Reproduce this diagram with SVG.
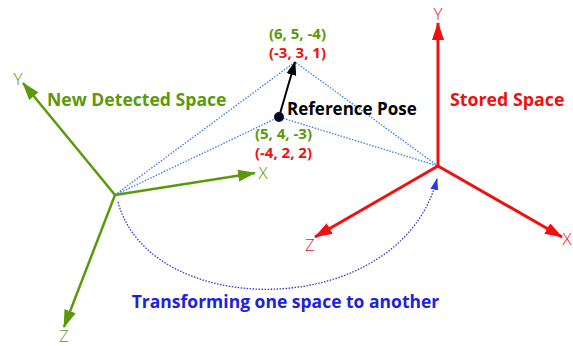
<svg xmlns="http://www.w3.org/2000/svg" width="573" height="346" viewBox="0 0 573 346">
<defs>
<style>
.g{stroke:#5a9a0a;stroke-width:2.5;fill:none}
.r{stroke:#f01010;stroke-width:3;fill:none}
.dot{stroke:#3a7cf0;stroke-width:1.3;stroke-dasharray:1.5 1.5;fill:none}
.arc{stroke:#3535d0;stroke-width:1.3;stroke-dasharray:1.5 1.5;fill:none}
.ax{font-family:"Open Sans","DejaVu Sans",sans-serif;font-size:17px;font-weight:300}
.b{font-family:"Open Sans","DejaVu Sans",sans-serif;font-weight:bold}
</style>
<marker id="mg" viewBox="0 0 18 12" refX="17" refY="6" markerWidth="18" markerHeight="12" markerUnits="userSpaceOnUse" orient="auto"><path d="M0,0 L18,6 L0,12 z" fill="#5a9a0a"/></marker>
<marker id="mr" viewBox="0 0 18 12" refX="17" refY="6" markerWidth="18" markerHeight="12" markerUnits="userSpaceOnUse" orient="auto"><path d="M0,0 L18,6 L0,12 z" fill="#f01010"/></marker>
<marker id="mk" viewBox="0 0 14 10" refX="13" refY="5" markerWidth="14" markerHeight="10" markerUnits="userSpaceOnUse" orient="auto"><path d="M0,0 L14,5 L0,10 z" fill="#000"/></marker>
<marker id="mb" viewBox="0 0 12 8" refX="11" refY="4" markerWidth="12" markerHeight="8" markerUnits="userSpaceOnUse" orient="auto"><path d="M0,0 L12,4 L0,8 z" fill="#2a3ae0"/></marker>
</defs>
<rect width="573" height="346" fill="#fff"/>
<g id="connectors">
<path class="dot" d="M115,195 L295,62 L438,166 M115,195 L279,117 L438,166"/>
<path class="arc" d="M118,202 C150,322 400,322 437,179" marker-end="url(#mb)"/>
<line x1="279" y1="117" x2="295" y2="62" stroke="#000" stroke-width="2" marker-end="url(#mk)"/>
</g>
<g id="detected-space">
<line class="g" x1="115" y1="195" x2="23" y2="83" marker-end="url(#mg)"/>
<line class="g" x1="115" y1="195" x2="255" y2="173" marker-end="url(#mg)"/>
<line class="g" x1="115" y1="195" x2="64" y2="327" marker-end="url(#mg)"/>
<text class="ax" x="18" y="85" fill="#5a9a0a" text-anchor="middle">Y</text>
<text class="ax" x="263" y="179" fill="#5a9a0a" text-anchor="middle">X</text>
<text class="ax" x="64" y="342" fill="#5a9a0a" text-anchor="middle">Z</text>
<text class="b" x="47" y="106" font-size="17.6" fill="#5a9a0a">New Detected Space</text>
</g>
<g id="stored-space">
<line class="r" x1="438" y1="166" x2="438" y2="23" marker-end="url(#mr)"/>
<line class="r" x1="438" y1="166" x2="562" y2="237" marker-end="url(#mr)"/>
<line class="r" x1="438" y1="166" x2="315" y2="237" marker-end="url(#mr)"/>
<text class="ax" x="438" y="20" fill="#f01010" text-anchor="middle">Y</text>
<text class="ax" x="567" y="245" fill="#f01010" text-anchor="middle">X</text>
<text class="ax" x="310" y="251" fill="#f01010" text-anchor="middle">Z</text>
<text class="b" x="450" y="106" font-size="17.8" fill="#f01010">Stored Space</text>
</g>
<g id="reference-pose">
<circle cx="279" cy="117" r="5" fill="#0a0a28"/>
<text class="b" x="287" y="115" font-size="17" fill="#000">Reference Pose</text>
<text class="b" x="297.5" y="39" font-size="15" fill="#5a9a0a" text-anchor="middle">(6, 5, -4)</text>
<text class="b" x="297.5" y="58" font-size="15" fill="#f01010" text-anchor="middle">(-3, 3, 1)</text>
<text class="b" x="283.5" y="139" font-size="15" fill="#5a9a0a" text-anchor="middle">(5, 4, -3)</text>
<text class="b" x="283.5" y="158" font-size="15" fill="#f01010" text-anchor="middle">(-4, 2, 2)</text>
</g>
<g id="caption">
<text class="b" x="285.5" y="308" font-size="17.5" fill="#2020e0" text-anchor="middle">Transforming one space to another</text>
</g>
</svg>
